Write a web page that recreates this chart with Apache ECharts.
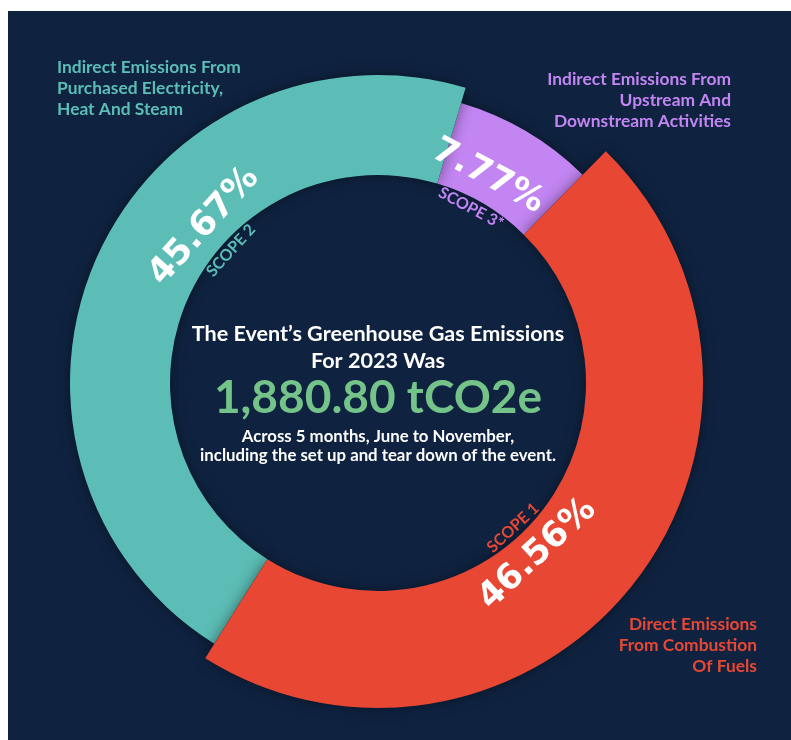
<!DOCTYPE html>
<html>
<head>
<meta charset="utf-8">
<title>Greenhouse Gas Emissions 2023</title>
<script src="https://cdn.jsdelivr.net/npm/echarts@6/dist/echarts.min.js"></script>
<style>
  html, body { margin: 0; padding: 0; background: #fff; }
  #chart { width: 791px; height: 740px; }
</style>
</head>
<body>
<div id="chart"></div>
<script>
  // share of total emissions per scope (%)
  const scopeNames = ['Scope 1', 'Scope 2', 'Scope 3']
  const scopeShares = [46.56, 45.67, 7.77]
  const scopeTags = ['SCOPE 1', 'SCOPE 2', 'SCOPE 3*']
  const scopeNotes = [
    'Direct Emissions\nFrom Combustion\nOf Fuels',
    'Indirect Emissions From\nPurchased Electricity,\nHeat And Steam',
    'Indirect Emissions From\nUpstream And\nDownstream Activities'
  ]
  const totalEmission = '1,880.80 tCO2e'

  const colors = ['#e84733', '#5bbdb5', '#c285f2']
  const navy = '#0f2341'
  const center = [378, 383]
  const innerR = 208
  const outerR = [325, 308, 292]
  const startAngle = 44.5 // clockwise from 12 o'clock
  const labelShift = [8.7, 17.7, -2.5] // where the designer nudged the labels
  const labelR = 220

  const total = scopeShares.reduce((a, b) => a + b, 0)
  const midAngles = []
  let acc = startAngle
  scopeShares.forEach(v => {
    const span = v / total * 360
    midAngles.push(acc + span / 2)
    acc += span
  })

  // one ring per scope so every slice can have its own thickness
  function ringSeries(k) {
    return {
      type: 'pie',
      center: center,
      radius: [innerR, outerR[k]],
      startAngle: 90 - startAngle,
      clockwise: true,
      silent: true,
      z: 2 + (2 - k),
      label: { show: false },
      labelLine: { show: false },
      data: scopeShares.map((v, i) => ({
        value: v,
        name: scopeNames[i],
        itemStyle: i === k ? {
          color: colors[i],
          borderWidth: 0,
          shadowBlur: 14,
          shadowColor: 'rgba(0, 0, 0, 0.45)'
        } : { color: 'transparent', borderWidth: 0 }
      }))
    }
  }

  // transparent ring on top that only carries the labels
  const labelSeries = {
    type: 'pie',
    center: center,
    radius: [innerR, outerR[2]],
    startAngle: 90 - startAngle,
    clockwise: true,
    silent: true,
    avoidLabelOverlap: false,
    z: 10,
    itemStyle: { color: 'transparent', borderWidth: 0 },
    labelLine: { show: false },
    label: {
      show: true,
      position: 'inside',
      formatter: params => {
        const pct = '{p|' + params.value.toFixed(2) + '%}'
        const tag = '{s' + params.dataIndex + '|' + scopeTags[params.dataIndex] + '}'
        // lower half: text faces the centre, so the tag goes first
        return params.dataIndex === 0 ? tag + '\n' + pct : pct + '\n' + tag
      },
      rich: {
        p: {
          color: '#ffffff',
          fontFamily: 'DejaVu Sans',
          fontWeight: 'bold',
          fontSize: 35,
          lineHeight: 44,
          align: 'center'
        },
        s0: { color: colors[0], fontFamily: 'Lato', fontWeight: 'bold', fontSize: 16, lineHeight: 28, align: 'center' },
        s1: { color: colors[1], fontFamily: 'Lato', fontWeight: 'bold', fontSize: 16, lineHeight: 28, align: 'center' },
        s2: { color: colors[2], fontFamily: 'Lato', fontWeight: 'bold', fontSize: 16, lineHeight: 28, align: 'center' }
      }
    },
    labelLayout: params => {
      const a = midAngles[params.dataIndex] + labelShift[params.dataIndex]
      const rad = a * Math.PI / 180
      const norm = ((a % 360) + 360) % 360
      const lower = norm > 90 && norm < 270
      return {
        x: center[0] + labelR * Math.sin(rad),
        y: center[1] - labelR * Math.cos(rad),
        rotate: lower ? 180 - norm : -norm
      }
    },
    data: scopeShares.map((v, i) => ({ value: v, name: scopeNames[i] }))
  }

  const noteText = (text, color, x, y, align) => ({
    type: 'text',
    x: x,
    y: y,
    z: 100,
    style: {
      text: text,
      fill: color,
      fontFamily: 'Lato',
      fontWeight: 'bold',
      fontSize: 17.4,
      lineHeight: 21,
      align: align,
      verticalAlign: 'top'
    }
  })

  const chart = echarts.init(document.getElementById('chart'))
  chart.setOption({
    animation: false,
    backgroundColor: '#ffffff',
    graphic: [
      { type: 'rect', z: -10, shape: { x: 8, y: 11, width: 783, height: 729 }, style: { fill: navy } },
      noteText(scopeNotes[1], colors[1], 57, 57, 'left'),
      noteText(scopeNotes[2], colors[2], 731, 69, 'right'),
      noteText(scopeNotes[0], colors[0], 757, 614, 'right'),
      {
        type: 'text', x: center[0], y: 321, z: 100,
        style: {
          text: 'The Event’s Greenhouse Gas Emissions\nFor 2023 Was',
          fill: '#ffffff', fontFamily: 'Lato', fontWeight: 'bold', fontSize: 21.6,
          lineHeight: 27, align: 'center', verticalAlign: 'top'
        }
      },
      {
        type: 'text', x: center[0], y: 372, z: 100,
        style: {
          text: totalEmission,
          fill: '#74c48a', fontFamily: 'Lato', fontWeight: 'bold', fontSize: 46,
          lineHeight: 52, align: 'center', verticalAlign: 'top'
        }
      },
      {
        type: 'text', x: center[0], y: 427, z: 100,
        style: {
          text: 'Across 5 months, June to November,\nincluding the set up and tear down of the event.',
          fill: '#ffffff', fontFamily: 'Lato', fontWeight: 'bold', fontSize: 16.8,
          lineHeight: 19, align: 'center', verticalAlign: 'top'
        }
      }
    ],
    series: [ringSeries(2), ringSeries(1), ringSeries(0), labelSeries]
  })
</script>
</body>
</html>
